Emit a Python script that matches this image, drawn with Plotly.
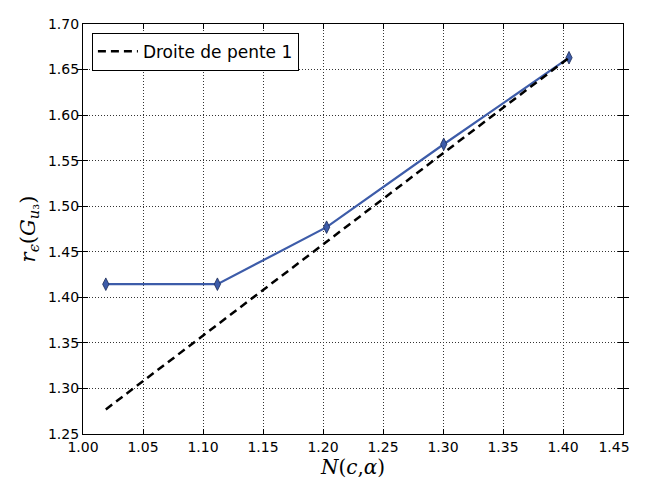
import plotly.graph_objects as go

x_vals = [1.019, 1.112, 1.203, 1.3006, 1.405]
r_vals = [1.4144, 1.4144, 1.477, 1.568, 1.663]
ref_vals = [1.277, 1.370, 1.461, 1.559, 1.663]
x_ticks = [1.00, 1.05, 1.10, 1.15, 1.20, 1.25, 1.30, 1.35, 1.40, 1.45]
y_ticks = [1.25, 1.30, 1.35, 1.40, 1.45, 1.50, 1.55, 1.60, 1.65, 1.70]

fig = go.Figure()
fig.add_trace(go.Scatter(
    x=x_vals, y=r_vals, mode="lines+markers", showlegend=False,
    line=dict(color="#3d5ca9", width=2.2),
    marker=dict(symbol="diamond-tall", size=9, color="#3d5ca9",
                line=dict(color="#1a2a55", width=0.8)),
))
fig.add_trace(go.Scatter(
    x=x_vals, y=ref_vals, mode="lines", name="Droite de pente 1",
    line=dict(color="black", width=2.5, dash="8px,5px"),
))
# invisible helper so the overlay axis carrying the last tick label is drawn
fig.add_trace(go.Scatter(
    x=[x_ticks[-1]], y=[y_ticks[0]], xaxis="x2", mode="markers",
    marker=dict(opacity=0), showlegend=False, hoverinfo="skip",
))

tick_font = dict(family="DejaVu Sans", size=14, color="black")
axis_common = dict(
    showline=True, linecolor="black", linewidth=1.3, mirror="allticks",
    ticks="inside", ticklen=5, tickcolor="black", tickwidth=1,
    showgrid=True, gridcolor="#333333", gridwidth=1, griddash="1px,2px",
    zeroline=False, tickfont=tick_font,
)
main_x_text = [f"{v:.2f}" for v in x_ticks[:-1]] + [""]
fig.update_layout(
    xaxis=dict(range=[1.00, 1.45], tickvals=x_ticks, ticktext=main_x_text,
               title=dict(text="<i>N</i>(<i>c</i>,<i>α</i>)",
                          font=dict(family="DejaVu Serif", size=20, color="black"),
                          standoff=2),
               **axis_common),
    xaxis2=dict(range=[1.00, 1.45], overlaying="x", side="bottom",
                tickvals=[x_ticks[-1]], ticktext=[f"{x_ticks[-1]:.2f}"],
                showgrid=False, zeroline=False,
                showline=True, linecolor="rgba(0,0,0,0)", linewidth=1.3,
                mirror="allticks", ticks="inside", ticklen=5,
                tickcolor="rgba(0,0,0,0)", tickwidth=1,
                ticklabelshift=-9, tickfont=tick_font),
    yaxis=dict(range=[1.25, 1.70], tickvals=y_ticks,
               ticktext=[f"{v:.2f}" for v in y_ticks],
               title=dict(text="<i>r</i><sub><i>ϵ</i></sub>(<i>G</i><sub><i>u</i>₃</sub>)",
                          font=dict(family="DejaVu Serif", size=21, color="black"),
                          standoff=6),
               **axis_common),
    width=630, height=471,
    margin=dict(l=75, r=9, t=8, b=39),
    paper_bgcolor="white", plot_bgcolor="white",
    legend=dict(x=0.0165, y=0.979, xanchor="left", yanchor="top",
                bgcolor="white", bordercolor="black", borderwidth=1,
                itemwidth=40,
                font=dict(family="DejaVu Sans", size=17, color="black")),
)
fig.write_html("out.html", config={"displayModeBar": False, "responsive": False})
